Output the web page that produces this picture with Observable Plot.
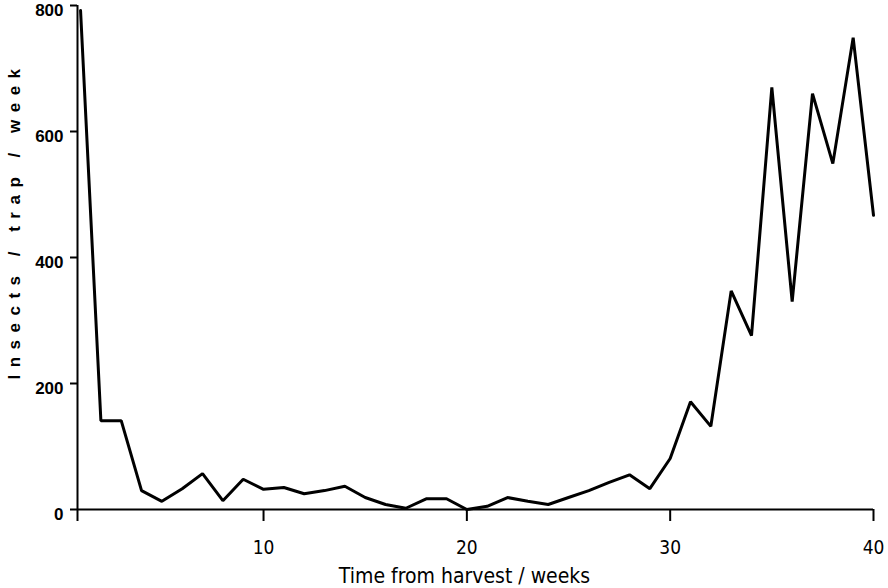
<!DOCTYPE html>
<html>
<head>
<meta charset="utf-8">
<script src="https://cdn.jsdelivr.net/npm/d3@7"></script>
<script src="https://cdn.jsdelivr.net/npm/@observablehq/plot@0.6"></script>
<style>
  html, body { margin: 0; padding: 0; background: #fff; }
  #chart svg { display: block; }
  .ylab text { letter-spacing: 7.5px; }
</style>
</head>
<body>
<div id="chart"></div>
<script>
const weeks = d3.range(1, 41);
const insects = [792, 141, 141, 30, 13, 33, 57, 14, 48, 32,
                 35, 25, 30, 37, 19, 8, 2, 17, 17, 0,
                 5, 19, 13, 8, 19, 30, 43, 55, 33, 81,
                 171, 132, 347, 276, 670, 330, 660, 549, 749, 467];
const xTicks = [10, 20, 30, 40];
const yTicks = [0, 200, 400, 600, 800];
const xLabel = "Time from harvest / weeks";
const yLabel = "Insects / trap / week";

const data = weeks.map((w, i) => ({week: w, value: insects[i]}));
const xStart = 0.85;
const narrow = "Liberation Sans Narrow, DejaVu Sans Condensed, Arial Narrow, sans-serif";

const chart = Plot.plot({
  width: 888,
  height: 588,
  marginLeft: 77,
  marginRight: 15,
  marginTop: 5,
  marginBottom: 79,
  style: {fontFamily: "Liberation Sans, Arial, sans-serif", color: "#000", background: "#fff", overflow: "visible"},
  x: {domain: [xStart, 40]},
  y: {domain: [0, 800]},
  marks: [
    Plot.ruleY([0], {stroke: "#000", strokeWidth: 2}),
    Plot.ruleX([xStart], {stroke: "#000", strokeWidth: 2}),
    Plot.axisY({ticks: yTicks, tickSize: 7, strokeWidth: 2, text: null, label: null}),
    Plot.axisY({ticks: yTicks, tickSize: 0, tickPadding: 14, fontSize: 17, fontWeight: "bold",
      dy: 5, label: null}),
    Plot.axisX({ticks: xTicks, tickSize: 12, tickPadding: 19, strokeWidth: 2,
      fontSize: 19, fontFamily: narrow, label: null}),
    Plot.axisX({ticks: [xStart], tickSize: 12, strokeWidth: 2, tickFormat: () => "", label: null}),
    Plot.text([yLabel], {frameAnchor: "left", dx: -63, dy: -37, rotate: -90, textAnchor: "middle",
      fontSize: 17, fontWeight: "bold", className: "ylab"}),
    Plot.text([xLabel], {frameAnchor: "bottom", dx: -11, dy: 73, fontSize: 21, fontFamily: narrow}),
    Plot.line(data, {x: "week", y: "value", stroke: "#000", strokeWidth: 3, strokeLinejoin: "miter"})
  ]
});
document.getElementById("chart").appendChild(chart);
</script>
</body>
</html>
